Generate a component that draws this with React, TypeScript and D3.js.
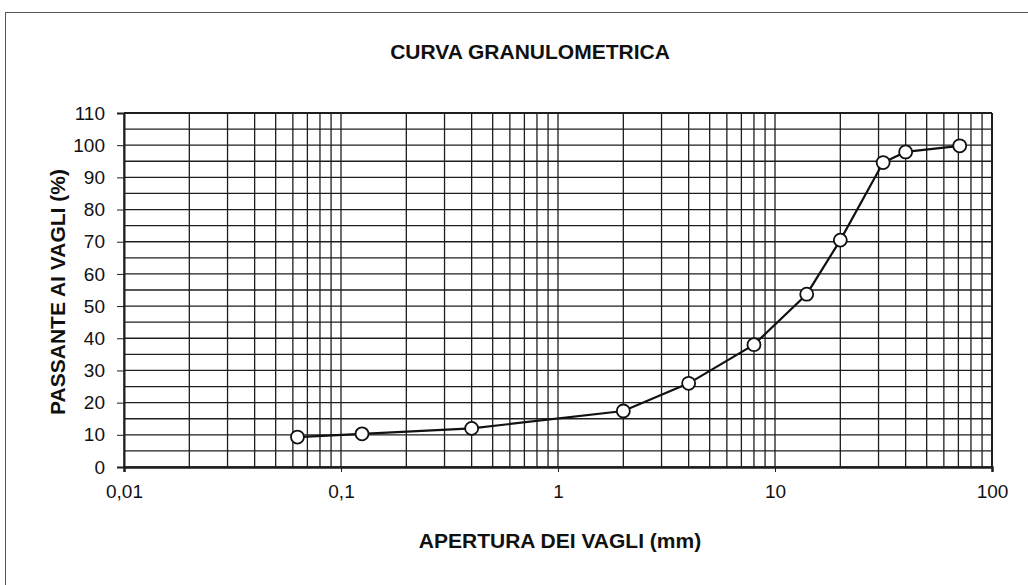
import React, { useEffect, useRef } from "react";
import * as d3 from "d3";

// aperture (mm) and passing percentage
const apertures = [0.063, 0.125, 0.4, 2, 4, 8, 14, 20, 31.5, 40, 71];
const passing = [9.3, 10.3, 12, 17.4, 26, 38, 53.7, 70.5, 94.6, 97.9, 99.8];
const xTickLabels = ["0,01", "0,1", "1", "10", "100"];
const yTicks = [0, 10, 20, 30, 40, 50, 60, 70, 80, 90, 100, 110];

const App = () => {
  const svgRef = useRef<SVGSVGElement>(null);

  useEffect(() => {
    const width = 1028;
    const height = 585;
    const svg = d3.select(svgRef.current).attr("width", width).attr("height", height);
    svg.selectAll("*").remove();

    const left = 124, right = 992, top = 113, bottom = 467;
    const x = d3.scaleLog().domain([0.01, 100]).range([left, right]);
    const y = d3.scaleLinear().domain([0, 110]).range([bottom, top]);
    const ink = "#1e1e1e";
    const font = "Liberation Sans, Arial, sans-serif";

    // outer frame
    svg.append("rect")
      .attr("x", 5.5).attr("y", 12.5)
      .attr("width", width).attr("height", height)
      .attr("fill", "white").attr("stroke", "#555").attr("stroke-width", 1);

    // grid
    const vLines: number[] = [];
    for (let e = -2; e < 2; e++) {
      for (let m = 1; m < 10; m++) vLines.push(m * Math.pow(10, e));
    }
    vLines.push(100);
    svg.append("g").selectAll("line").data(vLines).join("line")
      .attr("x1", (d) => x(d)).attr("x2", (d) => x(d))
      .attr("y1", top).attr("y2", bottom)
      .attr("stroke", ink).attr("stroke-width", 1.3);

    svg.append("g").selectAll("line").data(d3.range(0, 111, 5)).join("line")
      .attr("x1", left).attr("x2", right)
      .attr("y1", (d) => y(d)).attr("y2", (d) => y(d))
      .attr("stroke", ink).attr("stroke-width", 1.3);

    // axes
    const yAxis = svg.append("g").attr("transform", `translate(${left},0)`)
      .call(d3.axisLeft(y).tickValues(yTicks).tickSize(7).tickFormat(d3.format("d")));
    yAxis.select(".domain").attr("stroke", ink).attr("stroke-width", 2);
    yAxis.selectAll("line").attr("stroke", ink);
    yAxis.selectAll("text").attr("x", -19)
      .style("font-family", font).style("font-size", "19px").attr("fill", "#111");

    const xAxis = svg.append("g").attr("transform", `translate(0,${bottom})`)
      .call(d3.axisBottom(x).tickValues([0.01, 0.1, 1, 10, 100]).tickSize(5)
        .tickFormat((_, i) => xTickLabels[i]));
    xAxis.select(".domain").attr("stroke", ink).attr("stroke-width", 2.5);
    xAxis.selectAll("line").attr("stroke", ink);
    xAxis.selectAll("text").attr("y", 31).attr("dy", 0)
      .style("font-family", font).style("font-size", "19px").attr("fill", "#111");

    // top and right borders
    svg.append("line").attr("x1", left).attr("x2", right).attr("y1", top).attr("y2", top)
      .attr("stroke", ink).attr("stroke-width", 2);
    svg.append("line").attr("x1", right).attr("x2", right).attr("y1", top).attr("y2", bottom)
      .attr("stroke", ink).attr("stroke-width", 2);

    // curve
    const pts = apertures.map((a, i) => [a, passing[i]] as [number, number]);
    svg.append("path").datum(pts)
      .attr("d", d3.line<[number, number]>().x((d) => x(d[0])).y((d) => y(d[1])))
      .attr("fill", "none").attr("stroke", "#111").attr("stroke-width", 2.2);

    svg.append("g").selectAll("circle").data(pts).join("circle")
      .attr("cx", (d) => x(d[0])).attr("cy", (d) => y(d[1])).attr("r", 6.5)
      .attr("fill", "white").attr("stroke", "#111").attr("stroke-width", 1.8);

    // titles
    const bold = (sel: any) => sel.style("font-family", font)
      .style("font-weight", "bold").style("font-size", "21px").attr("fill", "#111").attr("text-anchor", "middle");

    svg.append("text").attr("x", 530).attr("y", 59).text("CURVA GRANULOMETRICA").call(bold);
    svg.append("text").attr("x", 560).attr("y", 548).text("APERTURA DEI VAGLI (mm)").call(bold);
    svg.append("text").attr("transform", "translate(65,292) rotate(-90)")
      .text("PASSANTE AI VAGLI (%)").call(bold);
  }, []);

  return (
    <div style={{ position: "absolute", left: 0, top: 0 }}>
      <svg ref={svgRef}></svg>
    </div>
  );
};

export default App;
